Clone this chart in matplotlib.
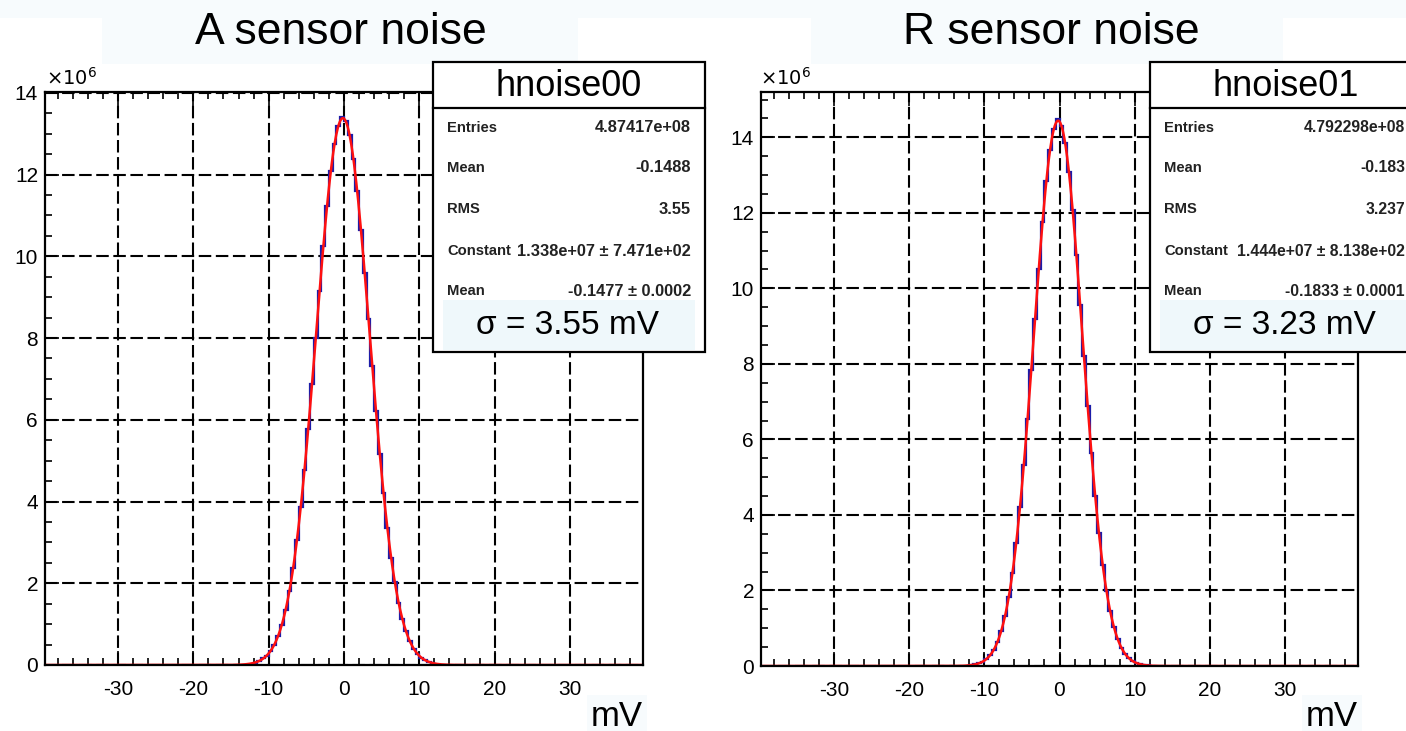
import numpy as np
import matplotlib.pyplot as plt
from matplotlib.patches import Rectangle
from matplotlib.lines import Line2D
from matplotlib.ticker import MultipleLocator

plt.rcParams['font.family'] = ['Liberation Sans', 'DejaVu Sans']
plt.rcParams['axes.unicode_minus'] = False

W, H = 1406, 731

# histogram binning (mV); counts in units of 1e6
bin_start = -12.0
bin_width = 0.5
counts_a = [0.06, 0.10, 0.16, 0.23, 0.35, 0.50, 0.71, 0.99, 1.35, 1.81, 2.38, 3.06,
            3.86, 4.77, 5.78, 6.87, 8.00, 9.14, 10.24, 11.23, 12.09, 12.75, 13.19, 13.42,
            13.30, 12.96, 12.38, 11.60, 10.65, 9.58, 8.46, 7.32, 6.21, 5.16, 4.21, 3.36,
            2.63, 2.02, 1.52, 1.13, 0.82, 0.58, 0.40, 0.27, 0.18, 0.12, 0.08, 0.05]
counts_r = [0.02, 0.04, 0.07, 0.11, 0.18, 0.28, 0.43, 0.64, 0.93, 1.32, 1.82, 2.47,
            3.27, 4.21, 5.31, 6.53, 7.84, 9.19, 10.52, 11.76, 12.83, 13.67, 14.22, 14.48,
            14.31, 13.85, 13.09, 12.08, 10.88, 9.57, 8.22, 6.89, 5.64, 4.51, 3.52, 2.68,
            1.99, 1.45, 1.03, 0.71, 0.48, 0.32, 0.20, 0.13, 0.08, 0.05, 0.03, 0.02]

# gaussian fit parameters (constant, mean, sigma)
fit_a = (1.338e7, -0.1477, 3.55)
fit_r = (1.444e7, -0.1833, 3.23)

titles = ['A sensor noise', 'R sensor noise']
hist_names = ['hnoise00', 'hnoise01']
stat_labels = ['Entries', 'Mean', 'RMS', 'Constant', 'Mean']
stat_values_a = ['4.87417e+08', '-0.1488', '3.55', '1.338e+07 \u00b1 7.471e+02', '-0.1477 \u00b1 0.0002']
stat_values_r = ['4.792298e+08', '-0.183', '3.237', '1.444e+07 \u00b1 8.138e+02', '-0.1833 \u00b1 0.0001']
sigma_text = ['\u03c3 = 3.55 mV', '\u03c3 = 3.23 mV']
ymax = [14.02, 15.2]
xlim = (-39.7, 39.7)

tint = '#f7fbfd'


def fx(x):
    return x / W


def fy(y):
    return 1 - y / H


fig = plt.figure(figsize=(W / 100, H / 100), dpi=100)
fig.patch.set_facecolor('white')

# faint band at the very top
fig.patches.append(Rectangle((0, fy(18)), 1, 18 / H, transform=fig.transFigure,
                             facecolor=tint, edgecolor='none', zorder=0))

panels = [
    dict(rect=(45, 92, 643, 665), counts=counts_a, fit=fit_a, values=stat_values_a,
         box=(433, 705), val_x=691, val_fs=11.8, title_box=(102, 578), title_x=341, ylabel_x=46),
    dict(rect=(761, 92, 1358, 666), counts=counts_r, fit=fit_r, values=stat_values_r,
         box=(1150, 1422), val_x=1405, val_fs=11.3, title_box=(811, 1283), title_x=1051,
         ylabel_x=760),
]

edges = bin_start + bin_width * np.arange(len(counts_a) + 1)

for i, p in enumerate(panels):
    x0, y0, x1, y1 = p['rect']
    ax = fig.add_axes([fx(x0), fy(y1), (x1 - x0) / W, (y1 - y0) / H])

    ax.stairs(p['counts'], edges, color='#1c1ca8', lw=1.6, zorder=3)
    c, m, s = p['fit']
    xf = np.linspace(xlim[0], xlim[1], 1200)
    ax.plot(xf, c * np.exp(-0.5 * ((xf - m) / s) ** 2) / 1e6, color='#ff1010', lw=1.8, zorder=4)

    ax.set_xlim(*xlim)
    ax.set_ylim(0, ymax[i])
    ax.xaxis.set_major_locator(MultipleLocator(10))
    ax.xaxis.set_minor_locator(MultipleLocator(2))
    ax.yaxis.set_major_locator(MultipleLocator(2))
    ax.yaxis.set_minor_locator(MultipleLocator(0.5))
    ax.tick_params(which='both', direction='in', top=True, right=False, width=1.2,
                   labelsize=15, colors='black')
    ax.tick_params(which='major', length=10)
    ax.tick_params(which='minor', length=5)
    ax.tick_params(axis='x', pad=11)
    ax.tick_params(axis='y', pad=5)
    ax.grid(which='major', color='black', linestyle=(0, (6, 2.2)), lw=1.5, zorder=1)
    for sp in ax.spines.values():
        sp.set_linewidth(1.6)
        sp.set_zorder(5)

    # exponent label
    fig.text(fx(p['ylabel_x']), fy(89), r'$\times10^{6}$', fontsize=14, ha='left', va='bottom')

    # title with light box
    tb0, tb1 = p['title_box']
    fig.patches.append(Rectangle((fx(tb0), fy(64)), (tb1 - tb0) / W, 46 / H,
                                 transform=fig.transFigure, facecolor=tint,
                                 edgecolor='none', zorder=0))
    fig.text(fx(p['title_x']), fy(32), titles[i], fontsize=32, ha='center', va='center')

    # x axis label
    fig.text(fx(x1), fy(716), 'mV', fontsize=25, ha='right', va='center',
             bbox=dict(facecolor=tint, edgecolor='none', pad=3))

    # stats box
    b0, b1 = p['box']
    box = Rectangle((fx(b0), fy(352)), (b1 - b0) / W, 290 / H, transform=fig.transFigure,
                    facecolor='white', edgecolor='black', lw=1.6, zorder=10)
    fig.patches.append(box)
    fig.lines.append(Line2D([fx(b0), fx(b1)], [fy(108), fy(108)], transform=fig.transFigure,
                            color='black', lw=1.6, zorder=11))
    fig.text(fx((b0 + b1) / 2), fy(86), hist_names[i], fontsize=26, ha='center', va='center',
             zorder=12)
    rows_y = [128, 168, 209, 251, 291]
    for lab, val, yy in zip(stat_labels, p['values'], rows_y):
        fig.text(fx(b0 + 14), fy(yy), lab, fontsize=10.6, fontweight='bold', ha='left',
                 va='center', zorder=12, color='#222222')
        fig.text(fx(p['val_x']), fy(yy), val, fontsize=p['val_fs'], fontweight='bold',
                 ha='right', va='center', zorder=12, color='#222222')
    fig.patches.append(Rectangle((fx(b0 + 10), fy(350)), (b1 - b0 - 20) / W, 50 / H,
                                 transform=fig.transFigure, facecolor='#eff8fb',
                                 edgecolor='none', zorder=11))
    fig.text(fx((b0 + b1) / 2 - 2), fy(325), sigma_text[i], fontsize=24, ha='center',
             va='center', zorder=12)

fig.savefig('out.png', dpi=100)
